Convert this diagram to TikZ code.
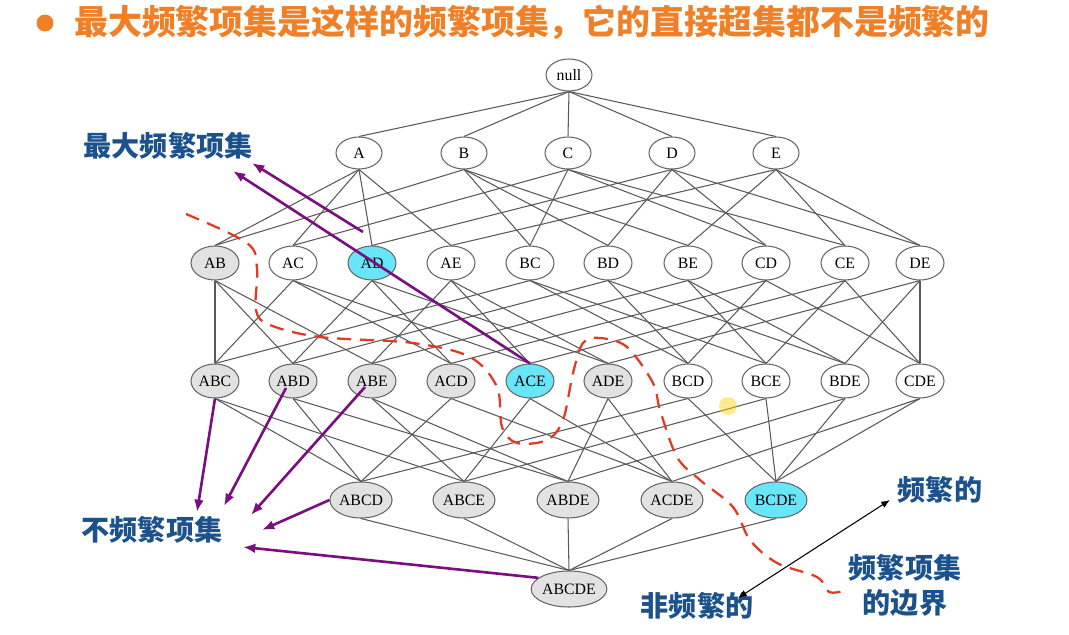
\documentclass[tikz,border=0pt]{standalone}
\usepackage{fontspec}
\setmainfont{Liberation Serif}
\newfontfamily\itemfont{Liberation Serif}
\newfontfamily\cjk{Noto Sans CJK SC}
\usetikzlibrary{arrows.meta,shapes.geometric}
\definecolor{titleorange}{RGB}{240,128,40}
\definecolor{labelblue}{RGB}{28,82,140}
\definecolor{maxcyan}{RGB}{104,230,248}
\definecolor{infgray}{RGB}{226,226,226}
\definecolor{markpurple}{RGB}{122,16,128}
\definecolor{borderred}{RGB}{226,58,36}

\begin{document}
\begin{tikzpicture}[x=0.02cm, y=-0.02cm,
    item/.style={draw=black!60, line width=0.6pt, ellipse, inner sep=0pt, fill=white,
                 minimum width=0.92cm, minimum height=0.64cm, font=\itemfont\fontsize{9}{10}\selectfont},
    pair/.style={minimum width=0.96cm, minimum height=0.68cm},
    quad/.style={minimum width=1.24cm, minimum height=0.72cm},
    freq/.style={fill=white},
    infreq/.style={fill=infgray},
    maxfreq/.style={fill=maxcyan},
    link/.style={draw=black!65, line width=0.6pt},
    pointer/.style={draw=markpurple, line width=1.5pt, -{Latex[length=7pt,width=5.5pt]}},
    callout/.style={text=labelblue, font=\cjk\bfseries\fontsize{16}{20}\selectfont, align=center},
    boundary/.style={draw=borderred, line width=1.3pt, dash pattern=on 8pt off 5pt}]
    \useasboundingbox (0,0) rectangle (1069,635);

    % Title
    \node[circle, fill=titleorange, minimum size=0.34cm, inner sep=0pt] (bullet) at (45,23) {};
    \node[anchor=west, text=titleorange, font=\cjk\bfseries\fontsize{19.3}{22}\selectfont] (title) at (68,22)
        {最大频繁项集是这样的频繁项集，它的直接超集都不是频繁的};

    % Itemset lattice
    \node[item] (null) at (569,75) {null};
    \foreach \n/\x in {A/359, B/464, C/568, D/672, E/776}
        \node[item] (\n) at (\x,153) {\n};
    \foreach \n/\x/\s in {AB/215/infreq, AC/293/freq, AD/372/maxfreq, AE/451/freq, BC/530/freq,
                         BD/608/freq, BE/688/freq, CD/766/freq, CE/845/freq, DE/920/freq}
        \node[item, pair, \s] (\n) at (\x,263) {\n};
    \foreach \n/\x/\s in {ABC/215/infreq, ABD/293/infreq, ABE/372/infreq, ACD/451/infreq, ACE/530/maxfreq,
                         ADE/608/infreq, BCD/688/freq, BCE/766/freq, BDE/845/freq, CDE/920/freq}
        \node[item, pair, \s] (\n) at (\x,381) {\n};
    \foreach \n/\x/\s in {ABCD/361/infreq, ABCE/464/infreq, ABDE/568/infreq, ACDE/672/infreq, BCDE/776/maxfreq}
        \node[item, quad, \s] (\n) at (\x,500) {\n};
    \node[item, quad, infreq, minimum width=1.32cm] (ABCDE) at (569,589) {ABCDE};

    % Subset links
    \foreach \p/\kids in {null/{A,B,C,D,E},
            A/{AB,AC,AD,AE}, B/{AB,BC,BD,BE}, C/{AC,BC,CD,CE}, D/{AD,BD,CD,DE}, E/{AE,BE,CE,DE},
            AB/{ABC,ABD,ABE}, AC/{ABC,ACD,ACE}, AD/{ABD,ACD,ADE}, AE/{ABE,ACE,ADE}, BC/{ABC,BCD,BCE},
            BD/{ABD,BCD,BDE}, BE/{ABE,BCE,BDE}, CD/{ACD,BCD,CDE}, CE/{ACE,BCE,CDE}, DE/{ADE,BDE,CDE},
            ABC/{ABCD,ABCE}, ABD/{ABCD,ABDE}, ABE/{ABCE,ABDE}, ACD/{ABCD,ACDE}, ACE/{ABCE,ACDE},
            ADE/{ABDE,ACDE}, BCD/{ABCD,BCDE}, BCE/{ABCE,BCDE}, BDE/{ABDE,BCDE}, CDE/{ACDE,BCDE},
            ABCD/{ABCDE}, ABCE/{ABCDE}, ABDE/{ABCDE}, ACDE/{ABCDE}, BCDE/{ABCDE}}
        \foreach \k in \kids
            \draw[link] (\p.south) -- (\k.north);

    % Border of the frequent itemsets
    \draw[boundary] plot[smooth, tension=0.55] coordinates {(186,214) (247,243) (257,268) (256,310)
        (270,325) (320,337) (413,343) (470,357) (497,387) (502,427) (517,443) (547,440) (563,420)
        (573,373) (583,343) (600,338) (627,347) (653,383) (660,410) (677,457) (700,480) (733,507)
        (750,540) (777,563) (817,577) (829,592) (843,591)};

    % Laser pointer spot
    \fill[yellow!70!orange, opacity=0.45] (728,406) circle (0.18cm);

    % Labels
    \node[callout] (maxlabel) at (168,146) {最大频繁项集};
    \node[callout] (inflabel) at (152,530) {不频繁项集};
    \node[callout] (freqlabel) at (940,490) {频繁的};
    \node[callout] (infside) at (697,606) {非频繁的};
    \node[callout] (borderlabel) at (905,585) {频繁项集\\的边界};

    % Pointers to the maximal frequent itemsets
    \coordinate (maxhead1) at (252,163);
    \coordinate (maxhead2) at (233,171);
    \coordinate (adtail) at (363,232);
    \draw[pointer] (adtail) -- (maxhead1);
    \draw[pointer] (ACE.north) -- (maxhead2);

    % Pointers to the infrequent itemsets
    \coordinate (infhead1) at (197,512);
    \coordinate (infhead2) at (224,506);
    \coordinate (infhead3) at (251,515);
    \coordinate (infhead4) at (262,530);
    \coordinate (infhead5) at (243,547);
    \draw[pointer] (ABC.south) -- (infhead1);
    \draw[pointer] ([shift={(-7,7)}]ABD.center) -- (infhead2);
    \draw[pointer] ([shift={(-7,6)}]ABE.center) -- (infhead3);
    \draw[pointer] (ABCD.west) -- (infhead4);
    \draw[pointer] (ABCDE.160) -- (infhead5);

    % Frequent / infrequent sides
    \coordinate (sidetip1) at (890,500);
    \coordinate (sidetip2) at (738,598);
    \draw[line width=0.6pt, {Latex[length=5pt,width=4pt]}-{Latex[length=5pt,width=4pt]}] (sidetip2) -- (sidetip1);
\end{tikzpicture}
\end{document}
